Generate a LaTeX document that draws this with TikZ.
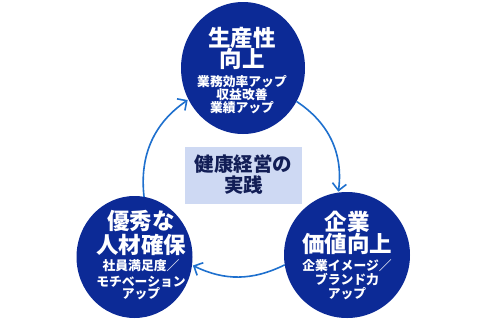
\documentclass[tikz,border=0pt]{standalone}
\usepackage{fontspec}
\newfontfamily\jpfont{Noto Sans CJK JP}
\usetikzlibrary{arrows.meta,shapes.geometric}
\definecolor{goalblue}{RGB}{12,42,150}
\definecolor{ringblue}{RGB}{30,112,206}
\definecolor{corefill}{RGB}{206,217,243}
\definecolor{coreink}{RGB}{18,30,86}
\tikzset{
  goal/.style={ellipse,fill=goalblue,draw=none,inner sep=0pt,outer sep=0pt},
  goaltitle/.style={inner sep=0pt,outer sep=0pt,anchor=base,text=white,font=\jpfont\bfseries\fontsize{22.5}{27}\selectfont},
  goalnote/.style={inner sep=0pt,outer sep=0pt,anchor=base,text=white,font=\jpfont\bfseries\fontsize{12.8}{15}\selectfont},
  corebox/.style={rectangle,fill=corefill,draw=none,inner sep=0pt,outer sep=0pt,align=center,text=coreink,font=\jpfont\bfseries\fontsize{19.5}{21}\selectfont},
  ringarc/.style={draw=ringblue,line width=1.6pt,-{Straight Barb[length=7pt,width=14pt]},shorten >=1pt}
}
\begin{document}
\begin{tikzpicture}[x=1pt,y=-1pt]
\path[use as bounding box] (0,0) rectangle (479,319);
\path[fill=white,draw=none] (0,0) rectangle (479,319);
% three goals and the core
\node[goal,minimum width=124pt,minimum height=132pt] (prod) at (243,68) {};
\node[goal,minimum width=116pt,minimum height=122pt] (talent) at (134.5,257) {};
\node[goal,minimum width=126pt,minimum height=126pt] (brand) at (347,255) {};
\node[corebox,minimum width=117pt,minimum height=57pt] (core) at (243.5,175) {健康経営の\\実践};
% productivity
\node[goaltitle] (prodT1) at (242,46) {生産性};
\node[goaltitle] (prodT2) at (242,67.5) {向上};
\node[goalnote] (prodN1) at (242,86.6) {業務効率アップ};
\node[goalnote] (prodN2) at (242,99.6) {収益改善};
\node[goalnote] (prodN3) at (242,112.4) {業績アップ};
% corporate value
\node[goaltitle] (brandT1) at (347,230.8) {企業};
\node[goaltitle] (brandT2) at (347,252.5) {価値向上};
\node[goalnote] (brandN1) at (347,270.4) {企業イメージ／};
\node[goalnote] (brandN2) at (347,284.4) {ブランド力};
\node[goalnote] (brandN3) at (347,298.4) {アップ};
% talent
\node[goaltitle] (talentT1) at (141,229.2) {優秀な};
\node[goaltitle] (talentT2) at (141,253.5) {人材確保};
\node[goalnote] (talentN1) at (141,270.6) {社員満足度／};
\node[goalnote] (talentN2) at (141,286.2) {モチベーション};
\node[goalnote] (talentN3) at (141,298.9) {アップ};
% the cycle
\draw[ringarc] (talent.81) to[bend left=31] (prod.210);
\draw[ringarc] (prod.328) to[bend left=32] (brand.98);
\draw[ringarc] (brand.189) to[bend left=26] (talent.-8);
\end{tikzpicture}
\end{document}
